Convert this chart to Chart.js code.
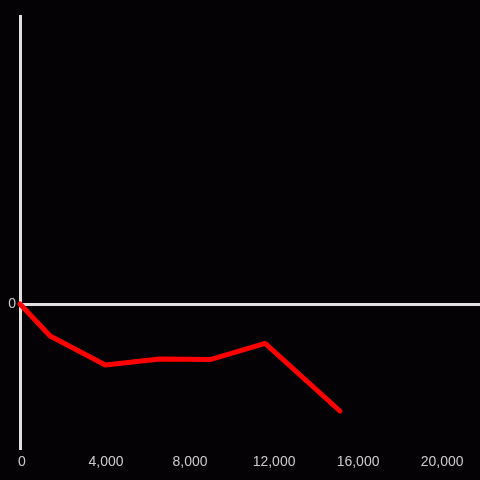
<!DOCTYPE html>
<html>
<head>
<meta charset="utf-8">
<script src="https://cdn.jsdelivr.net/npm/chart.js@4"></script>
<style>
  html, body { margin: 0; padding: 0; background: #040205; }
  #wrap { width: 480px; height: 480px; }
</style>
</head>
<body>
<div id="wrap"><canvas id="lineChart"></canvas></div>
<script>
const xValues = [0, 1435, 4065, 6650, 9090, 11670, 15230]
const yValues = [0, -0.222, -0.424, -0.382, -0.385, -0.274, -0.743]
const xTicks = [0, 4000, 8000, 12000, 16000, 20000]
const yTicks = [0]

const bgPlugin = {
    id: 'bg',
    beforeDraw: (chart) => {
        const ctx = chart.ctx
        ctx.save()
        ctx.fillStyle = '#040205'
        ctx.fillRect(0, 0, chart.width, chart.height)
        ctx.restore()
    }
}

const data = {
    datasets: [{
        data: xValues.map((x, i) => ({x: x, y: yValues[i]})),
        borderColor: '#ff0000',
        borderWidth: 5,
        borderCapStyle: 'round',
        borderJoinStyle: 'round',
        pointRadius: 0,
        tension: 0,
        clip: 6
    }]
}

const options = {
    responsive: true,
    maintainAspectRatio: false,
    animation: false,
    layout: {padding: {top: 16, right: 0, left: 0, bottom: 0}},
    plugins: {legend: {display: false}, tooltip: {enabled: false}},
    scales: {
        x: {
            type: 'linear',
            min: 0,
            max: 21900,
            afterBuildTicks: (scale) => { scale.ticks = xTicks.map(v => ({value: v})) },
            afterFit: (scale) => { scale.height = 32 },
            grid: {display: false, tickLength: 0},
            border: {display: false},
            ticks: {
                color: '#cccccc',
                font: {family: 'Liberation Sans', size: 14},
                padding: 6,
                labelOffset: 2,
                maxRotation: 0,
                callback: (v) => v.toLocaleString('en-US')
            }
        },
        y: {
            min: -1,
            max: 2,
            afterBuildTicks: (scale) => { scale.ticks = yTicks.map(v => ({value: v})) },
            afterFit: (scale) => { scale.width = 20 },
            grid: {
                color: '#e0e0e0',
                lineWidth: 3,
                drawTicks: false
            },
            border: {display: true, color: '#e0e0e0', width: 3},
            ticks: {
                color: '#cccccc',
                font: {family: 'Liberation Sans', size: 14},
                padding: 4
            }
        }
    }
}

Chart.defaults.color = '#cccccc'
new Chart('lineChart', {type: 'line', data, options, plugins: [bgPlugin]})
</script>
</body>
</html>
